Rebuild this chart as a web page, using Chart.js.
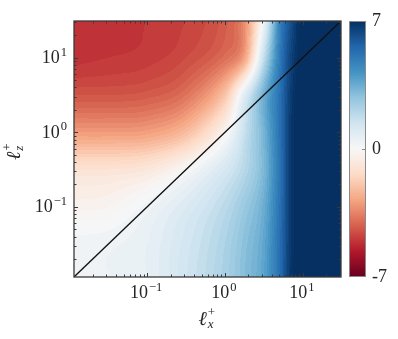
<!DOCTYPE html>
<html>
<head>
<meta charset="utf-8">
<script src="https://cdn.jsdelivr.net/npm/chart.js@4.4.1/dist/chart.umd.min.js"></script>
<style>
  html, body { margin: 0; padding: 0; background: #fff; }
</style>
</head>
<body>
<canvas id="chart" width="398" height="339"></canvas>
<script>
// grid of the field, in log10 of l_x+ (columns) and l_z+ (rows, bottom to top)
const logX = [-2, -1.5, -1, -0.5, 0, 0.25, 0.5, 0.7, 0.85, 1, 1.5];
const logZ = [-2, -1.5, -1, -0.5, 0, 0.5, 1, 1.5];
const field = [
  [ 0.4,  0.4,  0.6,  1.4,  2.3,  3.0, 3.8, 5.3, 6.9, 7.3, 7.5],
  [ 0.3,  0.35, 0.6,  1.3,  2.2,  2.9, 3.7, 5.3, 6.8, 7.3, 7.5],
  [-0.3, -0.2,  0.3,  1.0,  1.9,  2.6, 3.5, 5.2, 6.8, 7.3, 7.5],
  [-1.0, -1.0, -0.8,  0.0,  1.2,  2.0, 3.2, 5.1, 6.8, 7.3, 7.5],
  [-3.0, -3.0, -2.9, -2.2, -0.2,  1.6, 3.3, 5.2, 6.8, 7.3, 7.5],
  [-4.4, -4.4, -4.3, -3.8, -2.0,  0.8, 3.4, 5.2, 6.7, 7.3, 7.5],
  [-5.1, -5.0, -4.9, -4.6, -3.9, -2.8, 1.7, 4.9, 6.5, 7.2, 7.5],
  [-5.1, -5.1, -5.0, -4.8, -4.3, -3.3, 0.3, 4.6, 6.2, 7.2, 7.5]
];

const xRange = [0.0115, 31];
const yRange = [0.0115, 31];
const diagonal = [0.0115, 31];
const majorTicks = [0.1, 1, 10];
const majorLabels = ['\u22121', '0', '1'];
const cbTicks = [-7, 0, 7];
const cbLabels = ['-7', '0', '7'];
const cbRange = [-7, 7];
const levelStep = 0.2;

// RdBu, red for negative, blue for positive
const palette = ['#67001f', '#b2182b', '#d6604d', '#f4a582', '#fddbc7', '#f7f7f7',
                 '#d1e5f0', '#92c5de', '#4393c3', '#2166ac', '#053061'];
const paletteRgb = palette.map(h => [1, 3, 5].map(i => parseInt(h.substr(i, 2), 16)));

function colorOf(v) {
  let t = (v - cbRange[0]) / (cbRange[1] - cbRange[0]);
  t = Math.max(0, Math.min(1, t)) * (paletteRgb.length - 1);
  const i = Math.min(Math.floor(t), paletteRgb.length - 2), f = t - i;
  const a = paletteRgb[i], b = paletteRgb[i + 1];
  return [0, 1, 2].map(k => Math.round(a[k] + (b[k] - a[k]) * f));
}

// cubic hermite along one direction, slopes from neighbouring nodes
function interp1(nodes, vals, v) {
  const n = nodes.length;
  if (v <= nodes[0]) return vals[0];
  if (v >= nodes[n - 1]) return vals[n - 1];
  let i = 0;
  while (v > nodes[i + 1]) i++;
  const h = nodes[i + 1] - nodes[i], t = (v - nodes[i]) / h;
  const slope = k => {
    if (k === 0) return (vals[1] - vals[0]) / (nodes[1] - nodes[0]);
    if (k === n - 1) return (vals[k] - vals[k - 1]) / (nodes[k] - nodes[k - 1]);
    return (vals[k + 1] - vals[k - 1]) / (nodes[k + 1] - nodes[k - 1]);
  };
  const m0 = slope(i) * h, m1 = slope(i + 1) * h;
  const t2 = t * t, t3 = t2 * t;
  return (2 * t3 - 3 * t2 + 1) * vals[i] + (t3 - 2 * t2 + t) * m0 +
         (-2 * t3 + 3 * t2) * vals[i + 1] + (t3 - t2) * m1;
}

const serif = '"Liberation Serif", serif';

// filled contours, drawn under the diagonal line
const fieldPlugin = {
  id: 'field',
  beforeDatasetsDraw(chart) {
    const { ctx, chartArea: a, scales: { x, y } } = chart;
    const left = Math.round(a.left), top = Math.round(a.top);
    const w = Math.round(a.right) - left, h = Math.round(a.bottom) - top;
    const img = ctx.createImageData(w, h);
    const lxs = [];
    for (let i = 0; i < w; i++) lxs.push(Math.log10(x.getValueForPixel(left + i + 0.5)));
    for (let j = 0; j < h; j++) {
      const lz = Math.log10(y.getValueForPixel(top + j + 0.5));
      const col = logX.map((_, k) => interp1(logZ, field.map(r => r[k]), lz));
      for (let i = 0; i < w; i++) {
        const raw = interp1(logX, col, lxs[i]);
        const v = (Math.floor(raw / levelStep) + 0.5) * levelStep;
        const c = colorOf(v);
        const p = (j * w + i) * 4;
        img.data[p] = c[0]; img.data[p + 1] = c[1]; img.data[p + 2] = c[2]; img.data[p + 3] = 255;
      }
    }
    ctx.putImageData(img, left, top);
  }
};

function drawPower(ctx, exp, x, y, align) {
  ctx.font = '18px ' + serif;
  const wBase = ctx.measureText('10').width;
  ctx.font = '12.5px ' + serif;
  const wExp = ctx.measureText(exp).width;
  const total = wBase + 1 + wExp;
  const sx = align === 'center' ? x - total / 2 : x - total;
  ctx.textAlign = 'left';
  ctx.textBaseline = 'alphabetic';
  ctx.font = '18px ' + serif;
  ctx.fillText('10', sx, y);
  ctx.font = '12.5px ' + serif;
  ctx.fillText(exp, sx + wBase + 1, y - 7.5);
}

function drawEll(ctx, sub, x, y) {
  ctx.textAlign = 'left';
  ctx.textBaseline = 'alphabetic';
  ctx.font = 'italic 20px ' + serif;
  ctx.fillText('\u2113', x, y);
  const w = ctx.measureText('\u2113').width;
  ctx.font = 'italic 13px ' + serif;
  ctx.fillText(sub, x + w + 1, y + 3);
  ctx.font = '13px ' + serif;
  ctx.fillText('+', x + w + 1, y - 9);
}

// box, inward ticks, labels and colorbar
const framePlugin = {
  id: 'frame',
  afterDraw(chart) {
    const { ctx, chartArea: a, scales: { x, y, cb } } = chart;
    ctx.save();

    // colorbar
    const cbLeft = a.right + 8, cbW = 17;
    const cTop = Math.round(cb.getPixelForValue(cbRange[1]));
    const cBot = Math.round(cb.getPixelForValue(cbRange[0]));
    for (let py = cTop; py < cBot; py++) {
      const c = colorOf(cb.getValueForPixel(py + 0.5));
      ctx.fillStyle = 'rgb(' + c.join(',') + ')';
      ctx.fillRect(cbLeft, py, cbW, 1);
    }
    ctx.strokeStyle = '#8a8a8a';
    ctx.lineWidth = 1;
    ctx.strokeRect(cbLeft + 0.5, cTop + 0.5, cbW - 1, cBot - cTop - 1);
    ctx.beginPath();
    const zy = Math.round(cb.getPixelForValue(0)) + 0.5;
    ctx.moveTo(cbLeft + cbW - 1, zy); ctx.lineTo(cbLeft + cbW - 4, zy);
    ctx.stroke();
    ctx.fillStyle = '#262626';
    ctx.font = '18px ' + serif;
    ctx.textAlign = 'left';
    ctx.textBaseline = 'alphabetic';
    cbTicks.forEach((v, i) => {
      ctx.fillText(cbLabels[i], cbLeft + 23, cb.getPixelForValue(v) + 5);
    });

    // ticks on all four sides, pointing inward
    ctx.strokeStyle = '#3a3a3a';
    ctx.lineWidth = 1;
    ctx.beginPath();
    for (let d = -2; d <= 1; d++) {
      for (let k = 1; k <= 9; k++) {
        const v = k * Math.pow(10, d);
        const len = k === 1 ? 4 : 2.5;
        if (v > xRange[0] && v < xRange[1]) {
          const px = Math.round(x.getPixelForValue(v)) + 0.5;
          ctx.moveTo(px, a.bottom); ctx.lineTo(px, a.bottom - len);
          ctx.moveTo(px, a.top); ctx.lineTo(px, a.top + len);
        }
        if (v > yRange[0] && v < yRange[1]) {
          const py = Math.round(y.getPixelForValue(v)) + 0.5;
          ctx.moveTo(a.left, py); ctx.lineTo(a.left + len, py);
          ctx.moveTo(a.right, py); ctx.lineTo(a.right - len, py);
        }
      }
    }
    ctx.stroke();

    ctx.lineWidth = 1.3;
    ctx.strokeRect(a.left, a.top, a.right - a.left, a.bottom - a.top);

    // tick labels
    ctx.fillStyle = '#262626';
    majorTicks.forEach((v, i) => {
      drawPower(ctx, majorLabels[i], x.getPixelForValue(v) - 1, a.bottom + 21, 'center');
      drawPower(ctx, majorLabels[i], a.left - 7, y.getPixelForValue(v) + 5.5, 'right');
    });

    // axis titles
    drawEll(ctx, 'x', (a.left + a.right) / 2 - 9, a.bottom + 48);
    ctx.translate(20, (a.top + a.bottom) / 2 + 11);
    ctx.rotate(-Math.PI / 2);
    drawEll(ctx, 'z', 0, 0);
    ctx.restore();
  }
};

new Chart(document.getElementById('chart'), {
  type: 'scatter',
  data: {
    datasets: [{
      data: diagonal.map(v => ({ x: v, y: v })),
      showLine: true,
      borderColor: '#111',
      borderWidth: 1.3,
      pointRadius: 0
    }]
  },
  options: {
    responsive: false,
    animation: false,
    layout: { padding: { top: 21, left: 0, right: 0, bottom: 0 } },
    plugins: { legend: { display: false }, tooltip: { enabled: false } },
    scales: {
      x: {
        type: 'logarithmic', position: 'bottom',
        min: xRange[0], max: xRange[1],
        grid: { display: false, drawTicks: false },
        border: { display: false },
        ticks: { display: false },
        afterFit: s => { s.height = 62; }
      },
      y: {
        type: 'logarithmic', position: 'left',
        min: yRange[0], max: yRange[1],
        grid: { display: false, drawTicks: false },
        border: { display: false },
        ticks: { display: false },
        afterFit: s => { s.width = 74; }
      },
      cb: {
        type: 'linear', position: 'right',
        min: cbRange[0], max: cbRange[1],
        grid: { display: false, drawTicks: false },
        border: { display: false },
        ticks: { display: false },
        afterFit: s => { s.width = 57; }
      }
    }
  },
  plugins: [fieldPlugin, framePlugin]
});
</script>
</body>
</html>
